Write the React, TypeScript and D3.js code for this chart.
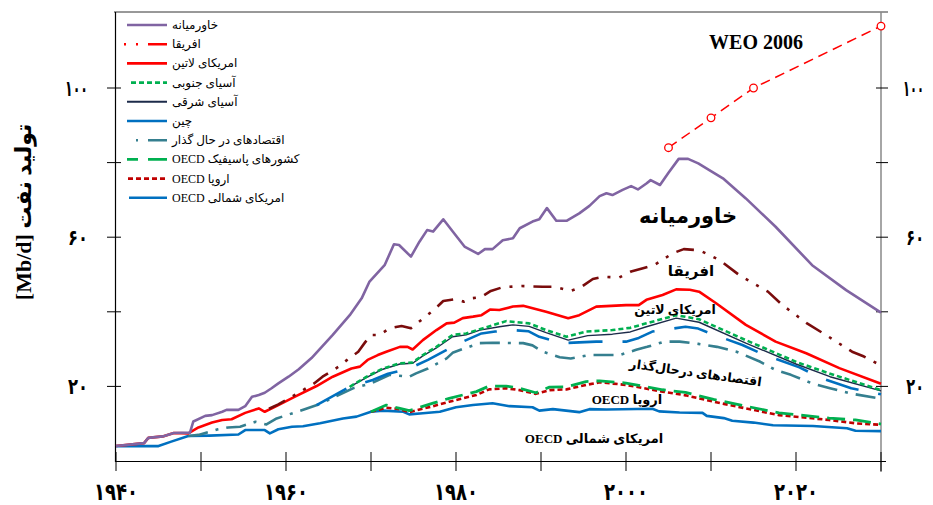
import React from 'react';
import * as d3 from 'd3';

type Pt = [number, number];

// Cumulative (stacked) oil production, Mb/d — each array is the top of its band
const northAmerica: Pt[] = [[1940, 4.0], [1945, 4.0], [1946.5, 5.2], [1948.5, 6.7], [1951, 6.8], [1954.4, 7.1], [1955.2, 8.3], [1957.5, 8.3], [1958.1, 7.4], [1959.1, 8.5], [1960.7, 9.2], [1962, 9.3], [1964, 10.1], [1966.7, 11.4], [1968.3, 11.9], [1970, 13.2], [1971.4, 13.5], [1973.8, 13.2], [1974.5, 12.5], [1976.1, 12.8], [1978.1, 13.2], [1980, 14.4], [1982, 15.0], [1984.3, 15.5], [1986.3, 14.7], [1989, 14.4], [1989.8, 13.5], [1991.4, 13.9], [1994.5, 13.1], [1995.7, 13.9], [1997.7, 13.8], [2003.1, 14.0], [2003.9, 13.3], [2006.3, 13.0], [2009, 12.9], [2009.5, 12.1], [2011.5, 11.5], [2012.5, 10.8], [2015, 10.3], [2017.3, 9.6], [2022, 9.4], [2026, 8.8], [2027, 8.1], [2030, 8.0]];
const europe: Pt[] = [[1970, 13.2], [1971.8, 14.3], [1973.4, 13.9], [1974.5, 13.1], [1977.3, 14.7], [1979.2, 15.9], [1982.4, 17.7], [1983.9, 19.2], [1985.9, 19.5], [1987.5, 19.0], [1989.4, 18.0], [1991, 19.0], [1993, 19.2], [1995.3, 20.4], [1996.9, 21.1], [2000, 20.4], [2004.3, 18.6], [2007, 17.6], [2010.3, 15.9], [2014.1, 14.1], [2018, 12.3], [2023.9, 11.0], [2027, 10.1], [2030, 9.7]];
const pacific: Pt[] = [[1970, 13.2], [1971.8, 15.0], [1973.4, 14.1], [1974.5, 13.5], [1977.3, 15.5], [1979.2, 16.8], [1982.4, 18.6], [1983.9, 20.1], [1985.9, 20.1], [1987.5, 19.5], [1989.4, 18.3], [1991, 19.8], [1993, 19.9], [1995.3, 21.3], [1996.9, 21.5], [2000, 20.9], [2004.3, 19.1], [2007, 18.4], [2010.3, 16.5], [2014.1, 14.7], [2018, 12.9], [2023.9, 11.5], [2027, 11.0], [2030, 9.9]];
const transition: Pt[] = [[1948.5, 6.7], [1949.7, 7.0], [1952, 8.5], [1953.2, 9.0], [1954.6, 9.2], [1956.4, 10.5], [1957.7, 9.8], [1958.9, 11.4], [1960.9, 12.9], [1962.2, 13.9], [1964, 15.3], [1966, 17.5], [1968, 19.6], [1970, 20.8], [1972.2, 23.1], [1974.5, 22.6], [1975.3, 23.5], [1976.7, 24.8], [1978.9, 27.5], [1979.6, 29.0], [1981, 30.2], [1982.8, 31.6], [1984.3, 31.7], [1987.9, 31.6], [1989, 31.0], [1990.2, 29.3], [1992.2, 27.8], [1993.5, 27.5], [1995.7, 28.4], [1999.2, 28.4], [2001.2, 29.8], [2002.5, 30.6], [2004.5, 32.0], [2006.3, 32.0], [2008.5, 31.4], [2010.7, 30.6], [2013, 29.3], [2015.8, 26.6], [2017.6, 24.4], [2019.4, 23.1], [2021.9, 20.8], [2024, 19.5], [2026.4, 18.1], [2030, 16.7]];
const china: Pt[] = [[1963.6, 15.0], [1967.5, 19.9], [1970.2, 21.7], [1972, 23.4], [1974.5, 24.8], [1976.7, 27.1], [1980.4, 31.6], [1983, 34.2], [1984.6, 34.7], [1986.7, 35.1], [1988.5, 34.8], [1989.8, 33.3], [1992.6, 31.6], [1994.5, 31.8], [1996.5, 32.0], [2000, 32.0], [2001.5, 33.0], [2003.1, 34.7], [2007, 36.0], [2008.5, 35.5], [2009.8, 34.3], [2013.7, 31.1], [2016, 28.7], [2020.4, 25.1], [2023, 22.2], [2026.5, 19.5], [2030, 17.9]];
const eastAsia: Pt[] = [[1967.5, 19.9], [1969.5, 22.4], [1971.4, 24.6], [1973.4, 26.0], [1974.9, 26.2], [1976.1, 28.2], [1977.7, 30.3], [1979.6, 33.3], [1981.2, 33.8], [1982.8, 35.1], [1985.1, 36.0], [1986.7, 36.5], [1988.6, 36.1], [1990.6, 34.4], [1993.2, 32.4], [1995.5, 33.6], [1998.4, 34.0], [2000.5, 34.6], [2002.4, 36.0], [2005.9, 38.3], [2008.6, 37.2], [2014.1, 31.6], [2020, 26.0], [2024, 22.6], [2030, 18.8]];
const southAsia: Pt[] = [[1967.5, 19.9], [1969.5, 22.6], [1971.4, 24.8], [1973.4, 26.2], [1974.9, 26.4], [1976.1, 28.4], [1977.7, 30.6], [1979.6, 33.8], [1981.2, 34.2], [1983.2, 35.6], [1985.9, 37.5], [1988.6, 36.9], [1990.6, 35.1], [1993, 33.3], [1995.3, 34.7], [1998.4, 35.1], [2000.5, 35.7], [2002.4, 36.9], [2005.9, 39.1], [2008.6, 38.0], [2014.1, 32.4], [2020.2, 26.4], [2023.9, 23.5], [2030, 19.0]];
const latinAmerica: Pt[] = [[1940, 4.0], [1943.3, 4.8], [1943.8, 6.2], [1945.5, 6.6], [1946.8, 7.5], [1948.5, 7.4], [1949.7, 9.0], [1951.3, 10.3], [1952.5, 11.0], [1953.6, 11.2], [1955.2, 12.9], [1956.8, 14.1], [1957.5, 13.2], [1959.1, 15.0], [1961, 17.2], [1963.6, 20.1], [1965.5, 22.6], [1967.7, 24.8], [1968.7, 25.3], [1969.6, 27.1], [1970.8, 28.4], [1971.8, 29.3], [1973.4, 30.6], [1974.3, 30.6], [1974.9, 29.9], [1976.1, 32.4], [1977.7, 35.1], [1978.9, 36.9], [1979.8, 37.1], [1980.8, 38.3], [1982, 38.7], [1983, 39.1], [1984, 40.6], [1985.1, 40.5], [1986.7, 41.4], [1987.9, 41.6], [1990.6, 40.0], [1993.2, 38.3], [1994.5, 39.1], [1996.5, 41.4], [2000, 41.8], [2001.5, 41.8], [2002.4, 43.2], [2004.3, 44.5], [2005.9, 46.0], [2007.5, 45.9], [2008.6, 45.4], [2010.6, 42.3], [2014.1, 36.5], [2017.6, 32.0], [2021.2, 28.9], [2025.1, 24.9], [2030, 20.7]];
const africa: Pt[] = [[1958, 14.0], [1959.1, 15.2], [1960.5, 17.0], [1962, 19.0], [1963.3, 20.8], [1964.3, 22.6], [1966.2, 25.3], [1967.3, 27.3], [1968.5, 29.3], [1969.3, 31.8], [1970, 33.8], [1971, 33.8], [1972.2, 35.6], [1973.6, 36.2], [1974.7, 35.6], [1976.4, 38.7], [1977.5, 40.7], [1978.5, 42.9], [1980, 43.4], [1980.9, 42.7], [1981.7, 43.6], [1982.9, 43.9], [1984.1, 45.6], [1985.5, 46.6], [1987.7, 46.9], [1990.2, 46.7], [1991.6, 46.7], [1993.5, 45.6], [1994.7, 46.6], [1996.1, 48.8], [1997.3, 49.4], [1999.2, 49.2], [2000.6, 50.8], [2002, 51.7], [2003.3, 52.5], [2005.5, 55.7], [2006.8, 56.8], [2008, 56.6], [2009, 56.1], [2011, 53.9], [2013.3, 49.9], [2016.7, 45.4], [2018.4, 41.8], [2021.3, 36.9], [2023.5, 33.8], [2026.6, 29.3], [2028, 28.0], [2030, 25.6]];
const middleEast: Pt[] = [[1940, 4.0], [1943.3, 4.8], [1943.8, 6.2], [1945.5, 6.6], [1946.8, 7.5], [1948.7, 7.6], [1949.1, 10.6], [1950.5, 12.1], [1951.3, 12.3], [1952.5, 13.2], [1953, 13.7], [1954.4, 13.7], [1955.2, 14.7], [1956, 17.2], [1956.8, 17.7], [1957.5, 18.3], [1958.3, 19.5], [1959.1, 20.8], [1960.3, 22.6], [1961.5, 24.6], [1963, 27.6], [1965.5, 33.8], [1967.5, 39.1], [1968.9, 43.6], [1969.8, 48.0], [1971.6, 52.5], [1972.7, 58.1], [1973.3, 57.9], [1974.7, 54.8], [1975.7, 58.8], [1976.6, 61.9], [1977.3, 61.5], [1978.5, 64.8], [1979.8, 61.0], [1981, 57.5], [1982.6, 55.5], [1983.4, 56.8], [1984.3, 56.8], [1985.5, 59.2], [1986.7, 59.7], [1987.5, 62.4], [1989, 64.2], [1989.8, 64.8], [1990.7, 67.8], [1991.8, 64.4], [1993, 64.4], [1994.5, 66.4], [1995.7, 68.4], [1996.9, 71.0], [1997.7, 71.8], [1998.4, 71.3], [1999.6, 72.7], [2000.6, 73.7], [2001.4, 72.8], [2002.4, 74.4], [2002.9, 75.3], [2004, 74.0], [2005, 77.3], [2006.2, 81.0], [2007.3, 81.0], [2008.5, 79.8], [2009.8, 78.0], [2011.4, 75.8], [2014.1, 70.4], [2017.6, 62.8], [2021.9, 52.5], [2025.9, 45.8], [2030, 39.8]];
const weo2006: Pt[] = [[2005, 84.0], [2010, 92.0], [2015, 100.0], [2030, 116.6]];

const xTickYears = [1940, 1950, 1960, 1970, 1980, 1990, 2000, 2010, 2020, 2030];
const xLabelYears = [1940, 1960, 1980, 2000, 2020];
const xLabels = ['۱۹۴۰', '۱۹۶۰', '۱۹۸۰', '۲۰۰۰', '۲۰۲۰'];
const yTickValues = [20, 40, 60, 80, 100];
const yLabelValues = [100, 60, 20];
const yLabels = ['۱۰۰', '۶۰', '۲۰'];

const legendLabels = [
  'خاورمیانه',
  'افریقا',
  'امریکای لاتین',
  'آسیای جنوبی',
  'آسیای شرقی',
  'چین',
  'اقتصادهای در حال گذار',
  'OECD کشورهای پاسیفیک',
  'OECD اروپا',
  'OECD امریکای شمالی',
];

const AR = "'Liberation Serif', 'DejaVu Sans', serif";

export default function App() {
  const x = d3.scaleLinear().domain([1940, 2030]).range([116, 881]);
  const y = d3.scaleLinear().domain([0, 100]).range([461, 88]);
  const line = d3.line<Pt>().x(d => x(d[0])).y(d => y(d[1]));

  const series = [
    { data: northAmerica, color: '#0070C0', w: 2.6, dash: undefined as string | undefined },
    { data: europe, color: '#C00000', w: 2.6, dash: '5,3' },
    { data: pacific, color: '#00B050', w: 2.8, dash: '18,8' },
    { data: transition, color: '#357F8F', w: 2.6, dash: '20,8,3,8' },
    { data: china, color: '#0070C0', w: 2.6, dash: '34,20' },
    { data: eastAsia, color: '#1C2B4A', w: 1.4, dash: undefined },
    { data: southAsia, color: '#00B050', w: 2.6, dash: '5,3' },
    { data: latinAmerica, color: '#FF0000', w: 2.6, dash: undefined },
    { data: africa, color: '#7A0C0C', w: 2.6, dash: '18,9,3,9,3,9' },
    { data: middleEast, color: '#8064A2', w: 2.6, dash: undefined },
  ];

  const legendStyles = [
    { color: '#8064A2', w: 2.6, dash: undefined as string | undefined, x1: 127 },
    { color: '#FF0000', w: 2.6, dash: '2,10,2,10,19,10', x1: 124 },
    { color: '#FF0000', w: 2.6, dash: undefined, x1: 127 },
    { color: '#00B050', w: 2.6, dash: '5,3', x1: 131 },
    { color: '#1C2B4A', w: 2, dash: undefined, x1: 127 },
    { color: '#0070C0', w: 2.6, dash: undefined, x1: 127 },
    { color: '#357F8F', w: 2.6, dash: '2,10,20,10', x1: 136 },
    { color: '#00B050', w: 2.6, dash: '11,10,20,10', x1: 127 },
    { color: '#C00000', w: 2.6, dash: '5,3', x1: 128 },
    { color: '#0070C0', w: 2.6, dash: undefined, x1: 129 },
  ];

  return (
    <svg width={933} height={505} style={{ position: 'absolute', left: 0, top: 0, background: '#fff' }}>
      {/* frame */}
      <line x1={114} x2={888} y1={12} y2={12} stroke="#333" strokeWidth={1} />
      <line x1={115.5} x2={115.5} y1={12} y2={462} stroke="#000" strokeWidth={1.2} />
      <line x1={881} x2={881} y1={12} y2={472} stroke="#888" strokeWidth={1.5} />
      <line x1={115} x2={886} y1={461.5} y2={461.5} stroke="#000" strokeWidth={1.2} />

      {xTickYears.map(t => (
        <line key={'xt' + t} x1={x(t)} x2={x(t)} y1={452} y2={471} stroke="#000" strokeWidth={1} />
      ))}
      {yTickValues.map(v => (
        <g key={'yt' + v}>
          <line x1={107} x2={121} y1={y(v)} y2={y(v)} stroke="#000" strokeWidth={1} />
          <line x1={876} x2={888} y1={y(v)} y2={y(v)} stroke="#000" strokeWidth={1} />
        </g>
      ))}

      {xLabelYears.map((t, i) => (
        <text key={'xl' + t} x={x(t)} y={500} textAnchor="middle" fontFamily="'DejaVu Sans'" fontWeight="bold"
          fontSize={24} textLength={44} lengthAdjust="spacingAndGlyphs">{xLabels[i]}</text>
      ))}
      {yLabelValues.map((v, i) => (
        <g key={'yl' + v}>
          <text x={88} y={y(v) + 8} textAnchor="end" fontFamily="'DejaVu Sans'" fontWeight="bold" fontSize={22}
            textLength={v === 100 ? 23 : 20} lengthAdjust="spacingAndGlyphs">{yLabels[i]}</text>
          <text transform={`translate(924,${y(v) + 8}) scale(${v === 100 ? 0.52 : 0.66},1)`} textAnchor="end"
            fontFamily="'DejaVu Sans'" fontWeight="bold" fontSize={22}>{yLabels[i]}</text>
        </g>
      ))}

      <text transform="translate(31,212) rotate(-90)" textAnchor="middle" fontFamily={AR} fontWeight="bold" fontSize={22}>
        [Mb/d] تولید نفت
      </text>

      {series.map((s, i) => (
        <path key={'s' + i} d={line(s.data) || ''} fill="none" stroke={s.color} strokeWidth={s.w}
          strokeDasharray={s.dash} strokeLinejoin="round" />
      ))}

      <path d={line(weo2006) || ''} fill="none" stroke="#FF0000" strokeWidth={1.5} strokeDasharray="10,6" />
      {weo2006.map((d, i) => (
        <circle key={'w' + i} cx={x(d[0])} cy={y(d[1])} r={3.8} fill="#fff" stroke="#FF0000" strokeWidth={1.3} />
      ))}
      <text x={756} y={49} textAnchor="middle" fontFamily="'Liberation Serif', serif" fontWeight="bold" fontSize={20}>WEO 2006</text>

      {/* legend */}
      {legendLabels.map((lab, i) => {
        const ly = 25 + i * 19.2;
        const st = legendStyles[i];
        return (
          <g key={'lg' + i}>
            <line x1={st.x1} x2={167} y1={ly} y2={ly} stroke={st.color} strokeWidth={st.w} strokeDasharray={st.dash} />
            <text x={172} y={ly + 4} fontFamily={AR} fontSize={12}>{lab}</text>
          </g>
        );
      })}

      {/* in-chart labels */}
      <text x={688} y={223} textAnchor="middle" fontFamily={AR} fontWeight="bold" fontSize={21}>خاورمیانه</text>
      <text x={691} y={276} textAnchor="middle" fontFamily={AR} fontWeight="bold" fontSize={15}>افریقا</text>
      <text x={675} y={314} textAnchor="middle" fontFamily={AR} fontWeight="bold" fontSize={12.5}>امریکای لاتین</text>
      <text transform="translate(695,377) rotate(8)" textAnchor="middle" fontFamily={AR} fontWeight="bold" fontSize={12.5}>اقتصادهای درحال‌گذار</text>
      <text x={627} y={404} textAnchor="middle" fontFamily={AR} fontWeight="bold" fontSize={13}>OECD اروپا</text>
      <text x={594} y={443} textAnchor="middle" fontFamily={AR} fontWeight="bold" fontSize={13}>OECD امریکای شمالی</text>
    </svg>
  );
}
